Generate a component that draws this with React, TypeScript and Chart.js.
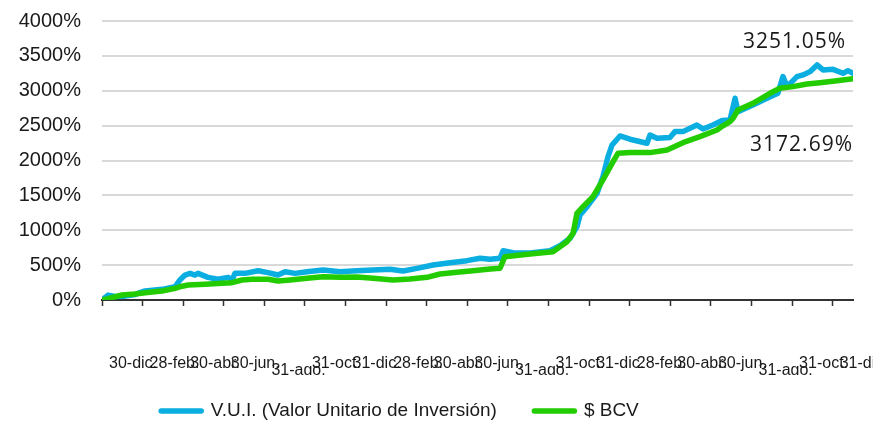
import React, { useEffect, useRef } from 'react';
import { Chart, registerables } from 'chart.js';

Chart.register(...registerables);

// X axis: months since the first date tick (30-dic.)
const X_MAX = 37;
const TICK_MONTHS = [0, 2, 4, 6, 8, 10, 12, 14, 16, 18, 20, 22, 24, 26, 28, 30, 32, 34, 36];
const TICK_LABELS = [
  '30-dic.', '28-feb.', '30-abr.', '30-jun.', '31-ago.', '31-oct.',
  '31-dic.', '28-feb.', '30-abr.', '30-jun.', '31-ago.', '31-oct.',
  '31-dic.', '28-feb.', '30-abr.', '30-jun.', '31-ago.', '31-oct.',
  '31-dic.',
];

const Y_MAX = 4000;
const Y_STEP = 500;

const SERIES_NAMES = ['V.U.I. (Valor Unitario de Inversión)', '$ BCV'];
const END_LABELS = ['3251.05%', '3172.69%'];

// V.U.I. series (month position, % return)
const VUI_X = [
  0, 0.3, 0.64, 1.13, 1.63, 2.12, 2.96, 3.6, 3.84, 4.09, 4.34, 4.58, 4.73, 5.22, 5.72,
  6.21, 6.41, 6.55, 7.05, 7.69, 8.18, 8.67, 9.02, 9.51, 10.1, 10.89, 11.73, 12.56, 13.35,
  14.19, 14.83, 15.52, 16.31, 17.15, 17.98, 18.62, 19.12, 19.61, 19.76, 20.25, 21.09,
  22.07, 22.56, 23.06, 23.4, 23.55, 23.9, 24.39, 24.68, 24.93, 25.13, 25.52, 26.01,
  26.85, 27.0, 27.34, 27.98, 28.23, 28.62, 29.31, 29.61, 30.1, 30.55, 30.94, 31.19,
  31.33, 32.07, 32.76, 33.3, 33.55, 33.75, 34.24, 34.54, 34.88, 35.23, 35.52, 36.01,
  36.51, 36.75, 37.0,
];
const VUI_Y = [
  0, 70, 50, 55, 80, 130, 153, 190, 287, 358, 382, 358, 382, 325, 297,
  325, 287, 382, 382, 420, 392, 358, 406, 382, 406, 430, 406, 420, 430,
  440, 416, 454, 502, 535, 564, 598, 583, 598, 707, 679, 674,
  707, 779, 884, 1051, 1219, 1338, 1530, 1768, 2055, 2223, 2352, 2305,
  2247, 2366, 2318, 2330, 2414, 2414, 2510, 2452, 2510, 2572, 2581, 2892,
  2700, 2796, 2892, 2964, 3203, 3059, 3203, 3227, 3274, 3370, 3298, 3307,
  3250, 3288, 3251.05,
];

// $ BCV series
const BCV_X = [
  0, 0.3, 0.99, 1.63, 2.12, 2.96, 3.6, 3.84, 4.24, 5.07, 5.91, 6.4, 6.9, 7.39, 8.18,
  8.67, 9.26, 10.1, 10.89, 11.73, 12.56, 13.35, 14.34, 15.17, 16.01, 16.65, 17.49,
  18.28, 19.12, 19.61, 19.85, 21.09, 22.22, 22.91, 23.21, 23.4, 23.7, 24.19, 24.68,
  25.18, 25.42, 26.01, 27.0, 27.84, 28.62, 29.46, 30.3, 30.55, 30.94, 31.09, 31.33,
  32.07, 32.91, 33.4, 34.04, 34.73, 35.37, 36.11, 37.0,
];
const BCV_Y = [
  0, 20, 72, 86, 105, 129, 167, 190, 215, 225, 239, 248, 287, 297, 297,
  272, 287, 311, 334, 325, 330, 311, 287, 301, 325, 373, 397,
  420, 445, 455, 621, 660, 693, 836, 956, 1243, 1338, 1482, 1721,
  1983, 2103, 2113, 2113, 2151, 2256, 2342, 2438, 2490, 2557, 2605, 2724,
  2820, 2964, 3036, 3059, 3097, 3116, 3140, 3172.69,
];

const COLORS = ['#0aaee0', '#22cc00'];
const TEXT = '#1a1a1a';
const SANS = '"Liberation Sans", Arial, sans-serif';

const toPoints = (xs: number[], ys: number[]) => xs.map((x, i) => ({ x, y: ys[i] }));

const endLabelPlugin = {
  id: 'endLabels',
  afterDatasetsDraw(chart: any) {
    const { ctx, scales } = chart;
    const xs = scales.x;
    const ys = scales.y;
    ctx.save();
    ctx.font = '21px "Open Sans", sans-serif';
    try { (ctx as any).letterSpacing = '1px'; } catch (e) { /* ignore */ }
    ctx.fillStyle = TEXT;
    ctx.textAlign = 'right';
    ctx.textBaseline = 'middle';
    const bx = xs.getPixelForValue(VUI_X[VUI_X.length - 1]);
    const by = ys.getPixelForValue(VUI_Y[VUI_Y.length - 1]);
    ctx.fillText(END_LABELS[0], bx - 7, by - 31);
    const gx = xs.getPixelForValue(BCV_X[BCV_X.length - 1]);
    const gy = ys.getPixelForValue(BCV_Y[BCV_Y.length - 1]);
    ctx.fillText(END_LABELS[1], gx, gy + 66);
    ctx.restore();
  },
};

const legendPlacePlugin = {
  id: 'legendPlace',
  afterLayout(chart: any) {
    const l = chart.legend;
    if (!l) return;
    l.left = 0;
    l.right = 800;
    l.top = 364;
    l.bottom = 423;
  },
};

export default function App() {
  const ref = useRef<HTMLCanvasElement | null>(null);

  useEffect(() => {
    if (!ref.current) return;
    const chart = new Chart(ref.current, {
      type: 'line',
      data: {
        datasets: [
          {
            label: SERIES_NAMES[0],
            data: toPoints(VUI_X, VUI_Y),
            borderColor: COLORS[0],
            backgroundColor: COLORS[0],
            borderWidth: 5.5,
            pointRadius: 0,
            tension: 0,
            borderCapStyle: 'round',
            borderJoinStyle: 'round',
            order: 1,
          },
          {
            label: SERIES_NAMES[1],
            data: toPoints(BCV_X, BCV_Y),
            borderColor: COLORS[1],
            backgroundColor: COLORS[1],
            borderWidth: 5.5,
            pointRadius: 0,
            tension: 0,
            borderCapStyle: 'round',
            borderJoinStyle: 'round',
            order: 0,
          },
        ],
      },
      options: {
        animation: false,
        responsive: false,
        devicePixelRatio: 1,
        layout: { padding: { top: 21, right: 20, bottom: 0, left: 0 } },
        plugins: {
          legend: {
            position: 'bottom',
            maxHeight: 48,
            labels: {
              boxWidth: 40,
              boxHeight: 0,
              padding: 37.5,
              color: TEXT,
              font: { family: SANS, size: 19 },
              sort: (a: any, b: any) => a.datasetIndex - b.datasetIndex,
            },
          },
          tooltip: { enabled: false },
        },
        scales: {
          x: {
            type: 'linear',
            min: 0,
            max: X_MAX,
            afterBuildTicks: (s: any) => {
              s.ticks = TICK_MONTHS.map((v) => ({ value: v }));
            },
            afterFit: (s: any) => {
              s.height = 75;
              s.paddingLeft = 0;
              s.paddingRight = 0;
            },
            ticks: {
              autoSkip: false,
              maxRotation: 0,
              minRotation: 0,
              align: 'start',
              labelOffset: 7,
              padding: 48,
              color: TEXT,
              callback: (_v: any, i: number) => TICK_LABELS[i],
              font: (c: any) => ({
                family: SANS,
                size: 16,
                lineHeight: c && typeof c.index === 'number' && TICK_LABELS[c.index] && TICK_LABELS[c.index].startsWith('31-ago') ? '33px' : 1.2,
              }),
            },
            grid: {
              drawOnChartArea: false,
              drawTicks: true,
              tickLength: 6,
              tickWidth: 1.5,
              tickColor: '#333333',
            },
            border: { display: true, color: '#333333', width: 2 },
          },
          y: {
            min: 0,
            max: Y_MAX,
            afterFit: (s: any) => {
              s.width = 102;
              s.paddingTop = 0;
              s.paddingBottom = 0;
            },
            ticks: {
              stepSize: Y_STEP,
              padding: 21,
              color: TEXT,
              font: { family: SANS, size: 20 },
              callback: (v: any) => `${v}%`,
            },
            grid: { color: '#d9d9d9', lineWidth: 2, drawTicks: false },
            border: { display: false },
          },
        },
      } as any,
      plugins: [endLabelPlugin, legendPlacePlugin],
    });
    return () => chart.destroy();
  }, []);

  return (
    <div style={{ position: 'fixed', left: 0, top: 0, width: 873, height: 423, background: '#ffffff' }}>
      <canvas ref={ref} width={873} height={423} style={{ display: 'block' }} />
    </div>
  );
}
